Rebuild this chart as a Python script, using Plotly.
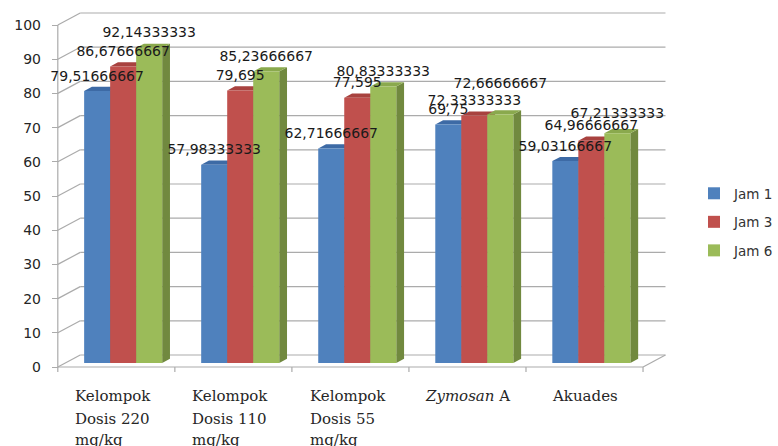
import plotly.graph_objects as go

# ---------------- data ----------------
categories = ["Kelompok<br>Dosis 220<br>mg/kg", "Kelompok<br>Dosis 110<br>mg/kg",
              "Kelompok<br>Dosis 55<br>mg/kg", "<i>Zymosan</i> A", "Akuades"]
series_names = ["Jam 1", "Jam 3", "Jam 6"]
jam1 = [79.51666667, 57.98333333, 62.71666667, 69.75, 59.03166667]
jam3 = [86.67666667, 79.695, 77.595, 72.33333333, 64.96666667]
jam6 = [92.14333333, 85.23666667, 80.83333333, 72.66666667, 67.21333333]
y_ticks = list(range(0, 101, 10))

# ---------------- style ----------------
front_colors = ["#4F81BD", "#C0504D", "#9BBB59"]
top_colors = ["#3D6AA5", "#A8423F", "#8AA94D"]
side_colors = ["#385D8A", "#8C3836", "#71893F"]
grid_color = "#ABABAB"
sans = "DejaVu Sans"
serif = "DejaVu Serif"
# extra upward nudge (px) for labels that the original moved to avoid overlap
label_nudge_px = {(2, 3): 16, (2, 4): 5}

W, H = 778, 446
L, R, T, B = 50, 700, 10, 376          # plot area in px
X0PX, Y0PX = 58, 367                   # front axis origin (u=-0.5, v=0)
PXU, PXV = 120.0, 3.42                 # px per category / per value unit

xr = [-0.5 + (L - X0PX) / PXU, -0.5 + (R - X0PX) / PXU]
yr = [(Y0PX - B) / PXV, (Y0PX - T) / PXV]

WALL_DU, WALL_DV = 23 / PXU, 12 / PXV
SHIFT_U, SHIFT_V = 7 / PXU, 4 / PXV
DEPTH_U, DEPTH_V = 8 / PXU, 4.2 / PXV
LABEL_PX = 14

n = len(categories)
xs = list(range(n))
series = [jam1, jam3, jam6]
BAR_W = (2 / 3) / 3

fig = go.Figure()

# top and side faces (main axes, shifted to bar depth)
for i, vals in enumerate(series):
    sx, sy, tx, ty = [], [], [], []
    for c, v in zip(xs, vals):
        xl = c - 1 / 3 + i * BAR_W + SHIFT_U
        xrr = xl + BAR_W
        b = SHIFT_V
        t = v + SHIFT_V
        sx += [xrr, xrr + DEPTH_U, xrr + DEPTH_U, xrr, xrr, None]
        sy += [b, b + DEPTH_V, t + DEPTH_V, t, b, None]
        tx += [xl, xrr, xrr + DEPTH_U, xl + DEPTH_U, xl, None]
        ty += [t, t, t + DEPTH_V, t + DEPTH_V, t, None]
    fig.add_trace(go.Scatter(x=sx, y=sy, mode="lines", fill="toself",
                             fillcolor=side_colors[i], line=dict(width=0),
                             hoverinfo="skip", showlegend=False))
    fig.add_trace(go.Scatter(x=tx, y=ty, mode="lines", fill="toself",
                             fillcolor=top_colors[i], line=dict(width=0),
                             hoverinfo="skip", showlegend=False))

# front faces (overlay axes, drawn above)
for i, vals in enumerate(series):
    fig.add_trace(go.Bar(x=xs, y=vals, name=series_names[i], xaxis="x2", yaxis="y2",
                         marker=dict(color=front_colors[i], line=dict(width=0)),
                         offsetgroup=str(i), legendgroup=series_names[i]))

# data labels (text traces on overlay axes, above bars)
for i, vals in enumerate(series):
    lx = [c - 1 / 3 + (i + 0.5) * BAR_W for c in xs]
    ly = [v + (LABEL_PX + label_nudge_px.get((i, k), 0)) / PXV for k, v in enumerate(vals)]
    fig.add_trace(go.Scatter(x=lx, y=ly, xaxis="x2", yaxis="y2", mode="text",
                             text=[f"{v:.10g}".replace(".", ",") for v in vals],
                             textposition="middle center", cliponaxis=False,
                             textfont=dict(family=sans, size=14, color="#1a1a1a"),
                             hoverinfo="skip", showlegend=False))

shapes = []
line_style = dict(color=grid_color, width=1.2)
for v in y_ticks:
    shapes.append(dict(type="line", xref="x", yref="y", x0=-0.5, y0=v,
                       x1=-0.5 + WALL_DU, y1=v + WALL_DV, line=line_style, layer="below"))
    shapes.append(dict(type="line", xref="x", yref="y", x0=-0.5 + WALL_DU, y0=v + WALL_DV,
                       x1=n - 0.5 + WALL_DU, y1=v + WALL_DV, line=line_style, layer="below"))
shapes.append(dict(type="line", xref="x", yref="y", x0=-0.5, y0=0, x1=n - 0.5, y1=0,
                   line=line_style, layer="below"))
shapes.append(dict(type="line", xref="x", yref="y", x0=n - 0.5, y0=0,
                   x1=n - 0.5 + WALL_DU, y1=WALL_DV, line=line_style, layer="below"))
shapes.append(dict(type="line", xref="x", yref="y", x0=-0.5, y0=0, x1=-0.5, y1=y_ticks[-1],
                   line=line_style, layer="below"))
for k in range(n + 1):
    shapes.append(dict(type="line", xref="x", yref="y", x0=k - 0.5, y0=0,
                       x1=k - 0.5, y1=-5 / PXV, line=line_style, layer="below"))

annotations = []
line_shifts = [-29, -52, -73]
for c, cat in zip(xs, categories):
    lines = cat.split("<br>")
    for j, ln in enumerate(lines):
        if len(lines) > 1:
            ax, anc = c - 44 / PXU, "left"
        else:
            ax, anc = c, "center"
        annotations.append(dict(x=ax, y=0, xref="x", yref="y", text=ln, showarrow=False,
                                xanchor=anc, yanchor="middle", yshift=line_shifts[j],
                                font=dict(family=serif, size=15, color="#262626")))

fig.update_layout(
    width=W, height=H,
    margin=dict(l=L, r=W - R, t=T, b=H - B, pad=0),
    paper_bgcolor="white", plot_bgcolor="rgba(0,0,0,0)",
    barmode="group", bargap=1 / 3, bargroupgap=0,
    shapes=shapes, annotations=annotations,
    xaxis=dict(range=xr, visible=False, fixedrange=True),
    yaxis=dict(range=yr, anchor="free", position=(X0PX - L) / (R - L),
               tickvals=y_ticks, ticks="outside", ticklen=6, tickcolor=grid_color,
               tickwidth=1.2, showline=False, showgrid=False, zeroline=False,
               ticklabelstandoff=8,
               tickfont=dict(family=sans, size=14, color="#262626")),
    xaxis2=dict(range=[xr[0] - SHIFT_U, xr[1] - SHIFT_U], overlaying="x", visible=False),
    yaxis2=dict(range=[yr[0] - SHIFT_V, yr[1] - SHIFT_V], overlaying="y", visible=False),
    legend=dict(xref="container", yref="container", x=694 / W, y=1 - 222 / H,
                xanchor="left", yanchor="middle", tracegroupgap=8,
                font=dict(family=sans, size=13.5, color="#333333"),
                bgcolor="rgba(0,0,0,0)", itemwidth=30),
    showlegend=True,
)

fig.write_html("out.html")
